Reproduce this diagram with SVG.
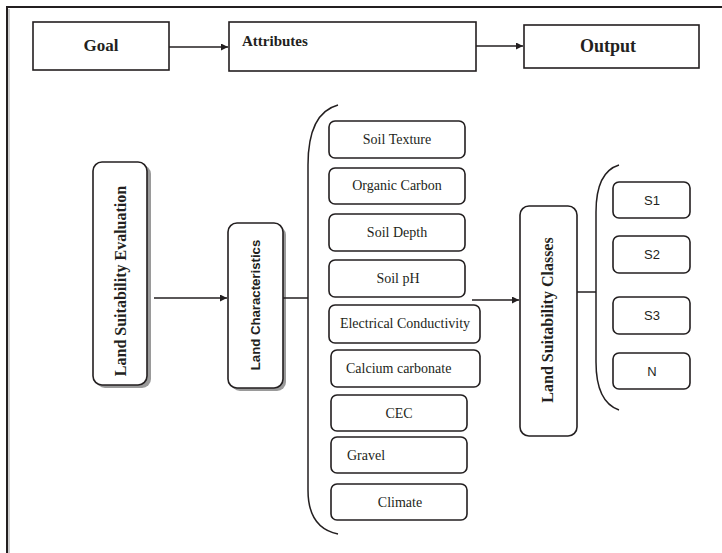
<svg xmlns="http://www.w3.org/2000/svg" width="722" height="553" viewBox="0 0 722 553">
<defs>
<style>
.box{fill:#fff;stroke:#231f20;stroke-width:1.6}
.shadow{fill:#9a9a9a;stroke:none}
.line{fill:none;stroke:#231f20;stroke-width:1.5}
.hb{font-family:"Liberation Serif","Times New Roman",serif;font-weight:bold;fill:#231f20}
.t{font-family:"Liberation Serif","Times New Roman",serif;font-size:14px;fill:#231f20}
.s{font-family:"Liberation Sans",Arial,sans-serif;font-size:13px;fill:#231f20}
</style>
<marker id="ah" viewBox="0 0 10 10" refX="10" refY="5" markerWidth="9" markerHeight="7" markerUnits="userSpaceOnUse" orient="auto">
<path d="M0,0 L10,5 L0,10 z" fill="#231f20"/>
</marker>
</defs>
<rect width="722" height="553" fill="#fff"/>
<path d="M7,560 L7,7 L730,7" fill="none" stroke="#231f20" stroke-width="2"/>
<line x1="9" y1="9" x2="9" y2="560" stroke="#999" stroke-width="1"/>

<g id="goal"><rect class="box" x="33" y="22" width="136" height="48"/><text class="hb" x="101" y="51" font-size="17" text-anchor="middle">Goal</text></g>
<g id="attributes"><rect class="box" x="229" y="22" width="247" height="49"/><text class="hb" x="242" y="46" font-size="15">Attributes</text></g>
<g id="output"><rect class="box" x="524" y="25" width="175" height="43"/><text class="hb" x="608" y="52" font-size="18" text-anchor="middle">Output</text></g>

<g id="lse"><rect class="shadow" x="96" y="165" width="55" height="223" rx="9"/><rect class="box" x="93" y="162" width="54" height="223" rx="9"/><text class="hb" font-size="16" text-anchor="middle" transform="translate(126,281) rotate(-90)">Land Suitability Evaluation</text></g>
<g id="lc"><rect class="shadow" x="231" y="226" width="55" height="165" rx="9"/><rect class="box" x="228" y="223" width="55" height="165" rx="9"/><text font-family="'Liberation Sans',Arial,sans-serif" font-weight="bold" font-size="13.2" fill="#231f20" text-anchor="middle" transform="translate(260,305) rotate(-90)">Land Characteristics</text></g>

<g id="soil-texture"><rect class="box" x="329" y="121" width="136" height="37" rx="6"/><text class="t" x="397" y="144" text-anchor="middle">Soil Texture</text></g>
<g id="organic-carbon"><rect class="box" x="329" y="168" width="136" height="36" rx="6"/><text class="t" x="397" y="190" text-anchor="middle">Organic Carbon</text></g>
<g id="soil-depth"><rect class="box" x="329" y="214" width="136" height="37" rx="6"/><text class="t" x="397" y="237" text-anchor="middle">Soil Depth</text></g>
<g id="soil-ph"><rect class="box" x="329" y="260" width="136" height="37" rx="6"/><text class="t" x="398" y="283" text-anchor="middle">Soil pH</text></g>
<g id="ec"><rect class="box" x="329" y="305" width="151" height="38" rx="6"/><text class="t" x="405" y="328" font-size="12.3" text-anchor="middle">Electrical Conductivity</text></g>
<g id="calcium-carbonate"><rect class="box" x="331" y="350" width="149" height="37" rx="6"/><text class="t" x="346" y="373">Calcium carbonate</text></g>
<g id="cec"><rect class="box" x="331" y="395" width="136" height="36" rx="6"/><text class="t" x="399" y="418" text-anchor="middle">CEC</text></g>
<g id="gravel"><rect class="box" x="331" y="437" width="136" height="36" rx="6"/><text class="t" x="347" y="460">Gravel</text></g>
<g id="climate"><rect class="box" x="331" y="484" width="136" height="36" rx="6"/><text class="t" x="400" y="507" text-anchor="middle">Climate</text></g>

<g id="lsc"><rect class="box" x="520" y="206" width="57" height="230" rx="9"/><text class="hb" font-size="16" text-anchor="middle" transform="translate(553,320) rotate(-90)">Land Suitability Classes</text></g>

<g id="s1"><rect class="box" x="613" y="182" width="77" height="36" rx="6"/><text class="s" x="652" y="205" text-anchor="middle">S1</text></g>
<g id="s2"><rect class="box" x="613" y="236" width="77" height="37" rx="6"/><text class="s" x="652" y="259" text-anchor="middle">S2</text></g>
<g id="s3"><rect class="box" x="613" y="297" width="77" height="37" rx="6"/><text class="s" x="652" y="320" text-anchor="middle">S3</text></g>
<g id="n"><rect class="box" x="613" y="353" width="77" height="36" rx="6"/><text class="s" x="652" y="376" text-anchor="middle">N</text></g>

<g id="connectors">
<line class="line" x1="169" y1="47" x2="228" y2="47" marker-end="url(#ah)"/>
<line class="line" x1="476" y1="46" x2="523" y2="46" marker-end="url(#ah)"/>
<line class="line" x1="154" y1="298" x2="227" y2="298" marker-end="url(#ah)"/>
<line class="line" x1="283" y1="298" x2="308" y2="298"/>
<path class="line" d="M338,105 Q308,113 308,165 L308,490 Q308,528 338,534"/>
<line class="line" x1="472" y1="300" x2="519" y2="300" marker-end="url(#ah)"/>
<line class="line" x1="577" y1="292" x2="596" y2="292"/>
<path class="line" d="M619,165 Q596,172 596,212 L596,362 Q596,402 619,410"/>
</g>
</svg>
